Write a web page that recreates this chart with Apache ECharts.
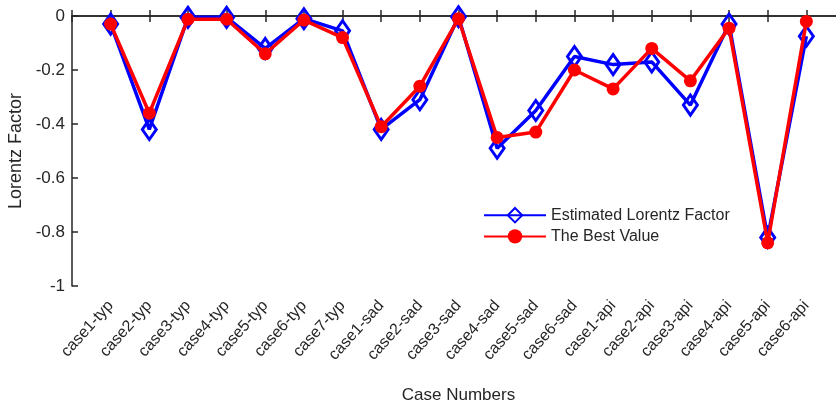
<!DOCTYPE html>
<html><head><meta charset="utf-8">
<script src="https://cdn.jsdelivr.net/npm/echarts@6/dist/echarts.min.js"></script>
<style>html,body{margin:0;padding:0;background:#fff}#c{width:836px;height:406px}</style>
</head><body><div id="c"></div>
<script>
const categories = ['case1-typ','case2-typ','case3-typ','case4-typ','case5-typ','case6-typ','case7-typ',
  'case1-sad','case2-sad','case3-sad','case4-sad','case5-sad','case6-sad',
  'case1-api','case2-api','case3-api','case4-api','case5-api','case6-api'];
const estimated = [-0.03,-0.42,-0.005,-0.005,-0.12,-0.01,-0.055,-0.42,-0.31,-0.003,-0.49,-0.35,-0.15,-0.18,-0.17,-0.33,-0.03,-0.82,-0.075];
const bestValue = [-0.03,-0.36,-0.012,-0.012,-0.14,-0.015,-0.08,-0.41,-0.26,-0.01,-0.45,-0.43,-0.2,-0.27,-0.12,-0.24,-0.045,-0.84,-0.02];
const yTicks = [0,-0.2,-0.4,-0.6,-0.8,-1];

const txt = '#262626';
const font = 'Liberation Sans, Arial, sans-serif';
const chart = echarts.init(document.getElementById('c'), null, {renderer:'canvas'});
const axisCommon = {
  type:'value', min:0, max:20, interval:1,
  axisLine:{show:true, lineStyle:{color:txt, width:1.5}},
  axisTick:{show:true, inside:true, length:6, lineStyle:{color:txt, width:1.5}},
  splitLine:{show:false}
};
chart.setOption({
  animation:false,
  textStyle:{fontFamily:font},
  grid:{left:72, right:-9, top:16, bottom:120, containLabel:false, outerBoundsMode:'none'},
  legend:{
    orient:'vertical', left:478, top:202, itemWidth:62, itemHeight:18, itemGap:5,
    textStyle:{fontSize:16, color:txt, fontFamily:font},
    data:['Estimated Lorentz Factor','The Best Value']
  },
  xAxis:[
    Object.assign({}, axisCommon, {
      position:'bottom',
      name:'Case Numbers', nameLocation:'middle', nameGap:101,
      nameTextStyle:{fontSize:17, color:txt, fontFamily:font},
      axisLabel:{show:true, rotate:48, fontSize:16, color:txt, margin:17, fontFamily:font,
        formatter:v=>categories[v-1]||''}
    }),
    Object.assign({}, axisCommon, {position:'top', axisLabel:{show:false}})
  ],
  yAxis:{
    type:'value', min:-1, max:0, interval:0.2,
    name:'Lorentz Factor', nameLocation:'middle', nameGap:43,
    nameTextStyle:{fontSize:18, color:txt, fontFamily:font},
    axisLine:{show:true, lineStyle:{color:txt, width:1.5}},
    axisTick:{show:true, inside:true, length:6, lineStyle:{color:txt, width:1.5}},
    splitLine:{show:false},
    axisLabel:{fontSize:17, color:txt, margin:7, fontFamily:font,
      formatter:v=>{const r=Math.round(v*10)/10; return r===0?'0':(r===-1?'-1':String(r));}}
  },
  series:[
    {name:'Estimated Lorentz Factor', type:'line', xAxisIndex:0,
     data:estimated.map((v,i)=>[i+1,v]),
     symbol:'diamond', symbolSize:[14,20], showAllSymbol:true,
     lineStyle:{color:'#0000ff', width:3.5},
     itemStyle:{color:'rgba(255,255,255,0)', borderColor:'#0000ff', borderWidth:3},
     z:2},
    {name:'The Best Value', type:'line', xAxisIndex:0,
     data:bestValue.map((v,i)=>[i+1,v]),
     symbol:'circle', symbolSize:13, showAllSymbol:true,
     lineStyle:{color:'#ff0000', width:3.5},
     itemStyle:{color:'#ff0000', borderColor:'#ff0000', borderWidth:0},
     z:3}
  ]
});
</script></body></html>
